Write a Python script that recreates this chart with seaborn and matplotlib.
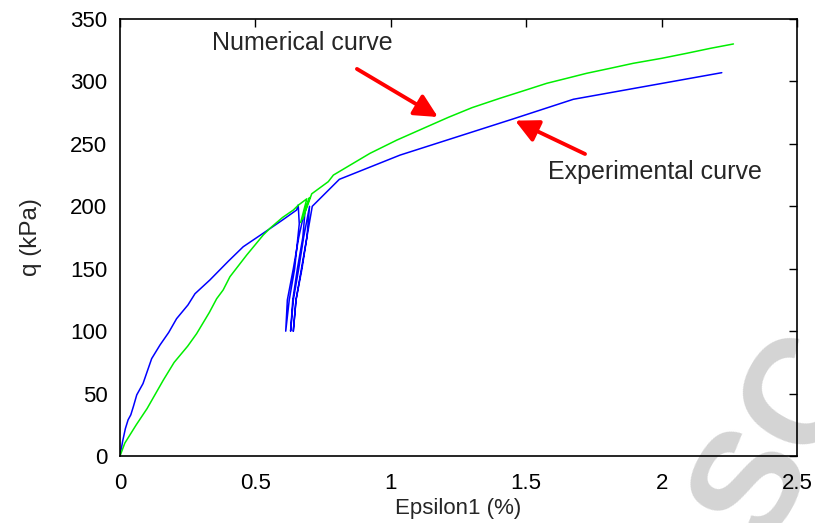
import matplotlib
matplotlib.use("Agg")
import matplotlib.pyplot as plt
import seaborn as sns
import pandas as pd

# Experimental triaxial test: axial strain (%) vs deviatoric stress q (kPa)
exp_eps = [0.0, 0.01, 0.02, 0.03, 0.04, 0.05, 0.062, 0.085, 0.117, 0.148, 0.18,
           0.209, 0.251, 0.277, 0.332, 0.40, 0.455, 0.53, 0.60, 0.652, 0.658,
           0.662, 0.645, 0.625, 0.612, 0.618, 0.640, 0.660, 0.685,
           0.675, 0.655, 0.638, 0.630, 0.640, 0.660, 0.678, 0.700,
           0.690, 0.670, 0.650, 0.640, 0.650, 0.672, 0.690, 0.710,
           0.81, 1.034, 1.452, 1.674, 2.222]
exp_q = [0, 12, 22, 29, 33, 40, 49, 58, 78, 89, 99,
         110, 121, 130, 141, 156, 167.6, 178.6, 189, 197, 201,
         186, 150, 125, 100, 125, 150, 175, 200,
         175, 150, 125, 100, 125, 150, 175, 200,
         175, 150, 125, 100, 125, 150, 175, 200,
         221.6, 241, 270, 285.7, 307]

# Numerical model response
num_eps = [0.0, 0.018, 0.06, 0.10, 0.16, 0.20, 0.25, 0.283, 0.33, 0.357, 0.381,
           0.406, 0.468, 0.529, 0.554, 0.60, 0.64, 0.659, 0.69, 0.667, 0.70,
           0.675, 0.708, 0.769, 0.788, 0.85, 0.923, 1.022, 1.12, 1.212, 1.30,
           1.403, 1.49, 1.576, 1.65, 1.723, 1.81, 1.895, 2.0, 2.092, 2.18, 2.265]
num_q = [0, 10.4, 25, 38, 60.8, 75, 88, 98, 115, 126, 133,
         143.6, 161, 177, 182.4, 191, 197, 201, 206, 187, 207,
         190, 210, 219.7, 225, 233, 242.4, 253, 262.4, 271.2, 279,
         286.5, 292.5, 298.5, 302.5, 306.5, 310.5, 314.5, 318.5, 322.5, 326.5, 330]

x_ticks = [0, 0.5, 1, 1.5, 2, 2.5]
x_tick_labels = ["0", "0.5", "1", "1.5", "2", "2.5"]
y_ticks = [0, 50, 100, 150, 200, 250, 300, 350]

sns.set_theme(style="white")
plt.rcParams["font.family"] = ["Liberation Sans", "DejaVu Sans"]

fig = plt.figure(figsize=(8.15, 5.23), dpi=100)

# Faint diagonal watermark lettering behind the plot
fig.text(0.96, 0.16, "SC", fontsize=108, fontweight="bold", color="#d4d4d4",
         rotation=60, ha="center", va="center", zorder=-5)

ax = fig.add_axes([0.1472, 0.128, 0.8308, 0.8357])
ax.patch.set_alpha(0)

exp_df = pd.DataFrame({"eps": exp_eps, "q": exp_q})
num_df = pd.DataFrame({"eps": num_eps, "q": num_q})

sns.lineplot(data=exp_df, x="eps", y="q", sort=False, estimator=None,
             color="#0000ff", lw=1.1, ax=ax)
sns.lineplot(data=num_df, x="eps", y="q", sort=False, estimator=None,
             color="#00ee00", lw=1.1, ax=ax)

ax.set_xlim(0, 2.5)
ax.set_ylim(0, 350)
ax.set_xticks(x_ticks)
ax.set_xticklabels(x_tick_labels)
ax.set_yticks(y_ticks)
ax.tick_params(axis="both", which="both", direction="in", length=6, width=1,
               top=True, right=True, labelsize=16, colors="black")
ax.tick_params(axis="x", pad=12)
ax.tick_params(axis="y", pad=9)
for s in ax.spines.values():
    s.set_color("black")
    s.set_linewidth(1.2)

ax.set_xlabel("Epsilon1 (%)", fontsize=16, labelpad=3)
ax.set_ylabel("q (kPa)", fontsize=17.5, labelpad=20)

# Curve annotations
ax.text(0.339, 330.5, "Numerical curve", fontsize=18, ha="left", va="center")
ax.text(1.58, 227.5, "Experimental curve", fontsize=18, ha="left", va="center")
arrow = dict(arrowstyle="-|>,head_length=0.7,head_width=0.35", color="#ff0000",
             lw=2.8, shrinkA=0, shrinkB=0, mutation_scale=20)
ax.annotate("", xy=(1.174, 271.5), xytext=(0.875, 310), arrowprops=arrow)
ax.annotate("", xy=(1.459, 268.6), xytext=(1.717, 241.9), arrowprops=arrow)

fig.savefig("out.png", dpi=100)
